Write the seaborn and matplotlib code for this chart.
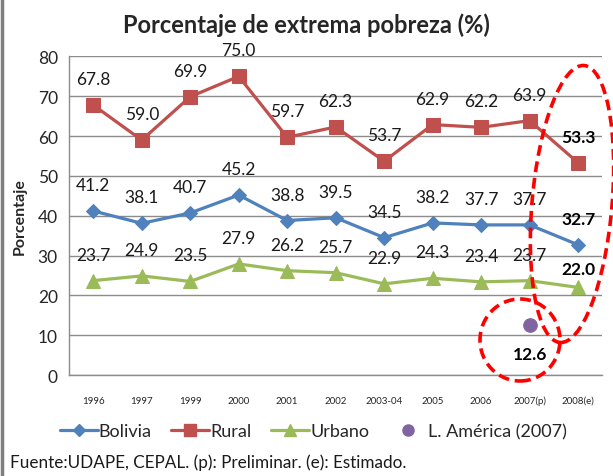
import matplotlib

matplotlib.use("Agg")

import matplotlib.pyplot as plt
import numpy as np
import pandas as pd
import seaborn as sns
from matplotlib.lines import Line2D
from matplotlib.patches import Ellipse

# datos
years = ["1996", "1997", "1999", "2000", "2001", "2002", "2003-04",
         "2005", "2006", "2007(p)", "2008(e)"]
bolivia = [41.2, 38.1, 40.7, 45.2, 38.8, 39.5, 34.5, 38.2, 37.7, 37.7, 32.7]
rural = [67.8, 59.0, 69.9, 75.0, 59.7, 62.3, 53.7, 62.9, 62.2, 63.9, 53.3]
urbano = [23.7, 24.9, 23.5, 27.9, 26.2, 25.7, 22.9, 24.3, 23.4, 23.7, 22.0]
la_year = "2007(p)"
la_value = 12.6

BLUE = "#4F81BD"
RED = "#C0504D"
GREEN = "#9BBB59"
PURPLE = "#8064A2"
GRID = "#8C8C8C"

sns.set_theme(style="white")
plt.rcParams["font.family"] = ["Lato", "DejaVu Sans"]

fig = plt.figure(figsize=(6.13, 4.77), dpi=100)
ax = fig.add_axes([0.1126, 0.2117, 0.870, 0.6678])

pos = np.arange(len(years))
series = [
    ("Bolivia", bolivia, BLUE, "D", 7),
    ("Rural", rural, RED, "s", 9.5),
    ("Urbano", urbano, GREEN, "^", 9.5),
]
for name, vals, col, mk, ms in series:
    df = pd.DataFrame({"pos": pos, "valor": vals})
    sns.lineplot(data=df, x="pos", y="valor", ax=ax, color=col, lw=2.3,
                 marker=mk, markersize=ms, markeredgecolor=col, zorder=3)

la_df = pd.DataFrame({"pos": [years.index(la_year)], "valor": [la_value]})
sns.scatterplot(data=la_df, x="pos", y="valor", ax=ax, color=PURPLE,
                s=95, edgecolor=PURPLE, zorder=4)

# etiquetas de datos
last = len(years) - 1
for name, vals, col, mk, ms in series:
    for i, v in enumerate(vals):
        if i == last:
            dy = 18 if name == "Urbano" else 26
            ax.annotate(f"{v:.1f}", (i, v), xytext=(0, dy), textcoords="offset pixels",
                        ha="center", va="center", fontsize=12.5, fontweight="bold",
                        color="black", zorder=5)
        else:
            ax.annotate(f"{v:.1f}", (i, v), xytext=(0, 26), textcoords="offset pixels",
                        ha="center", va="center", fontsize=12.5, color="#1a1a1a", zorder=5)
ax.annotate(f"{la_value:.1f}", (years.index(la_year), la_value), xytext=(0, -29),
            textcoords="offset pixels", ha="center", va="center", fontsize=12.5,
            fontweight="bold", color="black", zorder=5)

ax.set_xlim(-0.5, len(years) - 0.5)
ax.set_ylim(0, 80)
ax.set_yticks(range(0, 81, 10))
ax.set_xticks(pos)
ax.set_xticklabels(years, fontsize=7)
ax.tick_params(axis="x", length=0, pad=15)
ax.tick_params(axis="y", length=0, pad=8, labelsize=12.5)
ax.yaxis.grid(True, color=GRID, lw=1)
ax.set_axisbelow(True)
for s in ["top", "right"]:
    ax.spines[s].set_visible(False)
for s in ["left", "bottom"]:
    ax.spines[s].set_color(GRID)
    ax.spines[s].set_linewidth(1)
ax.set_xlabel("")
ax.set_ylabel("Porcentaje", fontsize=11.5, fontweight="bold", labelpad=8)

fig.text(0.5, 0.947, "Porcentaje de extrema pobreza (%)", ha="center", va="center",
         fontsize=17, fontweight="bold")

# leyenda
handles = [
    Line2D([], [], color=BLUE, lw=2.3, marker="D", markersize=6),
    Line2D([], [], color=RED, lw=2.3, marker="s", markersize=8),
    Line2D([], [], color=GREEN, lw=2.3, marker="^", markersize=8),
    Line2D([], [], color=PURPLE, lw=0, marker="o", markersize=8),
]
labels = ["Bolivia", "Rural", "Urbano", "L. América (2007)"]
fig.legend(handles, labels, loc="center", bbox_to_anchor=(0.511, 0.094), ncol=4,
           frameon=False, fontsize=13, handlelength=2.1, handletextpad=0.05,
           columnspacing=1.1, borderpad=0, borderaxespad=0)

fig.text(0.016, 0.030, "Fuente:UDAPE, CEPAL. (p): Preliminar. (e): Estimado.",
         ha="left", va="center", fontsize=12.3, color="#1a1a1a")

# óvalos rojos de énfasis (en píxeles de la figura)
fig.add_artist(Ellipse((5.72, 4.77 - 2.05), 0.80, 2.78, angle=-5, fill=False,
                       ec="#FF0000", lw=2.6, ls=(0, (3, 1.6)),
                       transform=fig.dpi_scale_trans, zorder=6))
fig.add_artist(Ellipse((5.20, 4.77 - 3.41), 0.80, 0.82, fill=False,
                       ec="#FF0000", lw=2.6, ls=(0, (3, 1.6)),
                       transform=fig.dpi_scale_trans, zorder=6))

fig.add_artist(Line2D([0.003, 0.003], [0, 1], color="#7F7F7F", lw=2.5,
                      transform=fig.transFigure))

fig.savefig("out.png", dpi=100)
